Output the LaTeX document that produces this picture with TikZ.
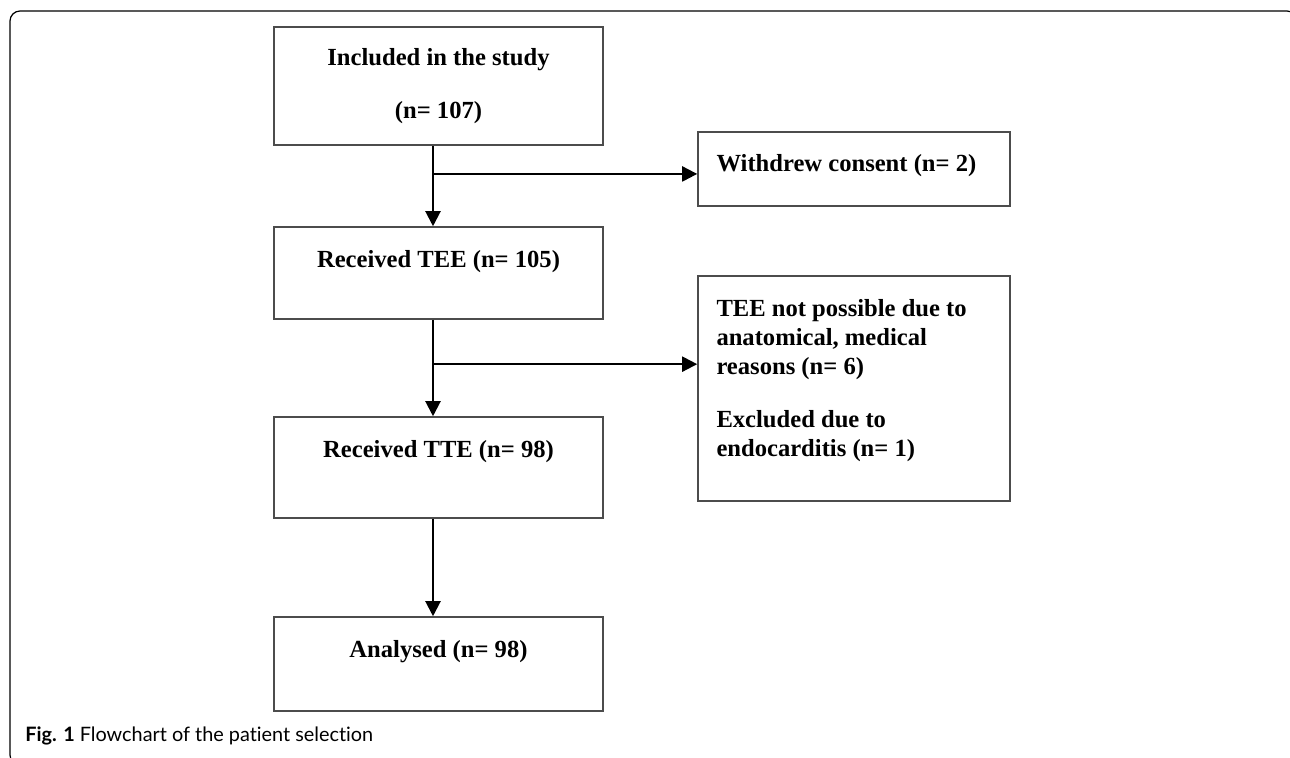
\documentclass[tikz,border=0pt]{standalone}
\usepackage{fontspec}
\setmainfont{Liberation Serif}
\newfontfamily\capfont[Ligatures=NoCommon]{Lato}
\usetikzlibrary{positioning,arrows.meta,calc}
\tikzset{
    on grid,
    node distance=3cm,
    block/.style = {
        draw=black!70,
        shape=rectangle,
        minimum width=6.58cm,
        line width=0.9pt,
        align=center,
        font=\fontsize{14}{16.6}\selectfont\bfseries
    },
    side/.style = {
        draw=black!70,
        shape=rectangle,
        minimum width=6.24cm,
        text width=5.5cm,
        inner xsep=0.37cm,
        line width=0.9pt,
        align=flush left,
        font=\fontsize{14}{16.6}\selectfont\bfseries
    },
    flow/.style = {
        draw,
        line width=1.2pt,
        -{Triangle[length=0.3cm,width=0.3cm]}
    },
}

\begin{document}
\begin{tikzpicture}
        \useasboundingbox (0,0) rectangle (25.8,-15.14);

        % outer frame
        \begin{scope}
            \clip (0,0) rectangle (25.8,-15.14);
            \draw[line width=0.7pt, rounded corners=0.2cm] (0.2,-0.22) rectangle (25.94,-15.3);
        \end{scope}

        \node[block, minimum height=2.36cm] (incl) at (8.77,-1.72) {Included in the study\\[13.4pt](n= 107)};
        \node[block, minimum height=1.84cm, text depth=0.56cm, below=3.74cm of incl] (recvtee) {Received TEE (n= 105)};
        \node[block, minimum height=2.02cm, text depth=0.74cm, below=3.89cm of recvtee] (recvtte) {Received TTE (n= 98)};
        \node[block, minimum height=1.88cm, text depth=0.6cm, below=3.93cm of recvtte] (anal) {Analysed (n= 98)};

        \node[side, minimum height=1.48cm, text depth=0.25cm, below right=1.66cm and 8.31cm of incl] (withdrew) {Withdrew consent (n= 2)};
        \node[side, minimum height=4.5cm, text depth=3.22cm, below right=2.31cm and 8.31cm of recvtee] (notposs) {TEE not possible due to\\anatomical, medical\\reasons (n= 6)\\[13.4pt]Excluded due to\\endocarditis (n= 1)};

        \coordinate (fork1) at ($([xshift=-0.11cm]incl.south)!0.35!([xshift=-0.11cm]recvtee.north)$);
        \coordinate (fork2) at ($([xshift=-0.11cm]recvtee.south)!0.46!([xshift=-0.11cm]recvtte.north)$);

        \path[flow] ([xshift=-0.11cm]incl.south) -- ([xshift=-0.11cm]recvtee.north);
        \path[flow] (fork1) -- (fork1 -| withdrew.west);
        \path[flow] ([xshift=-0.11cm]recvtee.south) -- ([xshift=-0.11cm]recvtte.north);
        \path[flow] (fork2) -- (fork2 -| notposs.west);
        \path[flow] ([xshift=-0.11cm]recvtte.south) -- ([xshift=-0.11cm]anal.north);

        \node[anchor=base west, inner sep=0, font=\capfont\fontsize{11.3}{13}\selectfont] (caption) at (0.5,-14.82) {\textbf{Fig. 1} Flowchart of the patient selection};
\end{tikzpicture}
\end{document}
